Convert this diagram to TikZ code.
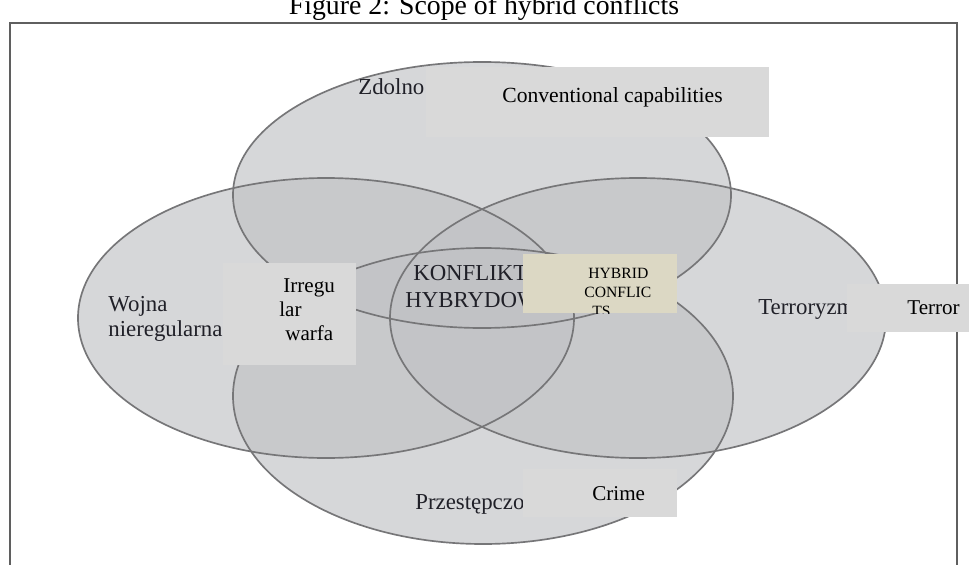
\documentclass[tikz,border=0pt]{standalone}
\usepackage{fontspec}
\setmainfont{Liberation Serif}
\definecolor{venn}{RGB}{193,194,197}
\definecolor{rimgray}{RGB}{118,118,120}
\definecolor{framegray}{RGB}{95,95,95}
\definecolor{pltext}{RGB}{32,32,40}
\definecolor{boxgray}{RGB}{217,217,217}
\definecolor{boxbeige}{RGB}{220,216,196}

\begin{document}
\begin{tikzpicture}[x=0.02cm,y=-0.02cm,
		set/.style={fill=venn,fill opacity=0.65},
		rim/.style={draw=rimgray,line width=0.95pt},
		pl/.style={text=pltext,inner sep=0pt,anchor=base west,align=left,font=\fontsize{13}{14.2}\selectfont},
		en/.style={inner sep=0pt,anchor=base west,align=left,font=\fontsize{12}{13.6}\selectfont},
		cover/.style={fill=boxgray}]
	\useasboundingbox (0,0) rectangle (969,564);
	\fill[white] (0,0) rectangle (969,564);
	\node[inner sep=0pt,anchor=base,font=\fontsize{15.8}{18}\selectfont] (title) at (484,15) {Figure 2: Scope of hybrid conflicts};
	\draw[draw=framegray,line width=0.95pt] (10,580) -- (10,23) -- (957,23) -- (957,580);
	% centres of the four sets
	\coordinate (zd) at (482,195);
	\coordinate (wo) at (326,318);
	\coordinate (te) at (638,318);
	\coordinate (pr) at (483,396);
	\fill[set] (zd) ellipse [x radius=249, y radius=133];
	\fill[set] (wo) ellipse [x radius=248, y radius=140];
	\fill[set] (te) ellipse [x radius=248, y radius=140];
	\fill[set] (pr) ellipse [x radius=250, y radius=148];
	\draw[rim] (zd) ellipse [x radius=249, y radius=133];
	\draw[rim] (wo) ellipse [x radius=248, y radius=140];
	\draw[rim] (te) ellipse [x radius=248, y radius=140];
	\draw[rim] (pr) ellipse [x radius=250, y radius=148];
	% polish labels (base = last line)
	\node[pl] (zdolno) at (358,95) {Zdolno};
	\node[pl] (wojna) at (108,336) {Wojna\\nieregularna};
	\node[pl,font=\fontsize{13}{15.3}\selectfont] (konflikt) at (405,307) {\hspace*{4.5pt}KONFLIKT\\HYBRYDOWY};
	\node[pl] (terroryzm) at (758,314) {Terroryzm};
	\node[pl] (przest) at (415,509) {Przestępczo};
	% english boxes on top
	\fill[cover] (426,67) rectangle (769,137);
	\fill[cover] (223,263) rectangle (356,365);
	\fill[boxbeige] (523,254) rectangle (677,313);
	\fill[cover] (523,469) rectangle (677,517);
	\fill[cover] (847,284) rectangle (969,332);
	\node[en,font=\fontsize{12.3}{14}\selectfont] (conv) at (502,103) {Conventional capabilities};
	\node[en] (irreg) at (279,340) {\hspace*{2.3pt}Irregu\\lar\\\hspace*{3.4pt}warfa};
	\begin{scope}
		\clip (523,254) rectangle (677,313);
		\node[en,font=\fontsize{8.9}{10.8}\selectfont] (hybrid) at (584,316) {\hspace*{2.3pt}HYBRID\\CONFLIC\\\hspace*{4.5pt}TS};
	\end{scope}
	\node[en] (crime) at (592,500) {Crime};
	\node[en] (terror) at (907,314) {Terror};
\end{tikzpicture}
\end{document}
